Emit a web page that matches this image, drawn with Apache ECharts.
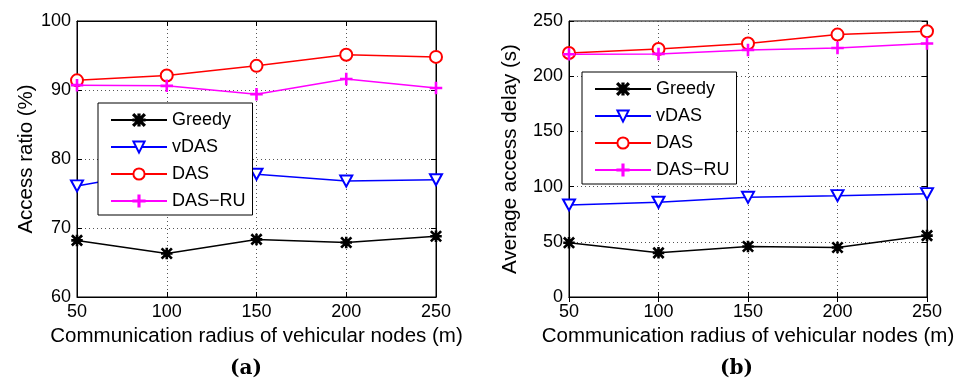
<!DOCTYPE html>
<html>
<head>
<meta charset="utf-8">
<script src="https://cdn.jsdelivr.net/npm/echarts@6/dist/echarts.min.js"></script>
<style>html,body{margin:0;padding:0;background:#fff}#c{width:955px;height:378px}</style>
</head>
<body>
<div id="c"></div>
<script>
const radii = [50, 100, 150, 200, 250];
const seriesNames = ['Greedy', 'vDAS', 'DAS', 'DAS\u2212RU'];
const ratioGreedy = [68.2, 66.3, 68.35, 67.9, 68.8];
const ratioVDAS = [76.1, 78.4, 77.8, 76.8, 77.0];
const ratioDAS = [91.4, 92.1, 93.5, 95.1, 94.8];
const ratioDASRU = [90.7, 90.6, 89.4, 91.6, 90.3];
const delayGreedy = [49.2, 40, 45.7, 44.8, 55.6];
const delayVDAS = [83.4, 85.8, 90.3, 91.8, 93.6];
const delayDAS = [221, 224.7, 229.6, 237.7, 240.7];
const delayDASRU = [219.9, 220.2, 223.8, 225.6, 229.6];
const ratioTicks = [60, 70, 80, 90, 100];
const delayTicks = [0, 50, 100, 150, 200, 250];
const xTicks = [50, 100, 150, 200, 250];

const FONT = 'Liberation Sans, Arial, Helvetica, sans-serif';
const colors = ['#000000', '#0000ff', '#ff0000', '#ff00ff'];
const ASTER = 'path://M4.45,0H5.55V10H4.45Z M0,4.45H10V5.55H0Z M0,0.8L0.8,0L10,9.2L9.2,10Z M9.2,0L10,0.8L0.8,10L0,9.2Z';
const PLUS = 'path://M4.5,0H5.5V10H4.5Z M0,4.5H10V5.5H0Z';
const symbols = [ASTER, 'emptyTriangle', 'emptyCircle', PLUS];
const symSizes = [10, [12, 11], 12, 11];
const symRot = [0, 180, 0, 0];

function pairs(vals) { return radii.map((r, i) => [r, vals[i]]); }

function mkSeries(idx, vals, gi) {
  return {
    type: 'line', name: seriesNames[idx], xAxisIndex: gi * 2, yAxisIndex: gi * 2,
    data: pairs(vals), symbol: symbols[idx], symbolSize: symSizes[idx], symbolRotate: symRot[idx],
    showAllSymbol: true, animation: false, z: 3,
    lineStyle: { color: colors[idx], width: 1.5 },
    itemStyle: { color: colors[idx], borderColor: colors[idx], borderWidth: 1.5 }
  };
}

const grids = [
  { left: 77, top: 21, width: 359, height: 276, show: true, borderColor: '#000', borderWidth: 1, containLabel: false, outerBoundsMode: 'none' },
  { left: 569, top: 21, width: 358, height: 276, show: true, borderColor: '#000', borderWidth: 1, containLabel: false, outerBoundsMode: 'none' }
];

const dotted = { show: true, lineStyle: { color: '#555', type: [1, 3], width: 1 } };
const axisLine = { show: true, lineStyle: { color: '#000', width: 1 } };
const tickIn = { show: true, inside: true, length: 5, lineStyle: { color: '#000' } };
const lbl = { fontFamily: FONT, fontSize: 18, color: '#000' };
const nameStyle = { fontFamily: FONT, fontSize: 20.5, color: '#000' };

function xAxes(gi) {
  return [
    { type: 'value', gridIndex: gi, min: xTicks[0], max: xTicks[xTicks.length - 1], interval: xTicks[1] - xTicks[0],
      axisLine, axisTick: tickIn, splitLine: dotted, axisLabel: Object.assign({ margin: 6 }, lbl),
      name: 'Communication radius of vehicular nodes (m)', nameLocation: 'middle', nameGap: 27,
      nameTextStyle: nameStyle },
    { type: 'value', gridIndex: gi, position: 'top', min: xTicks[0], max: xTicks[xTicks.length - 1], interval: xTicks[1] - xTicks[0],
      axisLine, axisTick: tickIn, splitLine: { show: false }, axisLabel: { show: false } }
  ];
}
function yAxes(gi, ticks, name, gap) {
  return [
    { type: 'value', gridIndex: gi, min: ticks[0], max: ticks[ticks.length - 1], interval: ticks[1] - ticks[0],
      axisLine, axisTick: tickIn, splitLine: dotted, axisLabel: Object.assign({ margin: 6 }, lbl),
      name, nameLocation: 'middle', nameGap: gap,
      nameTextStyle: nameStyle },
    { type: 'value', gridIndex: gi, position: 'right', min: ticks[0], max: ticks[ticks.length - 1], interval: ticks[1] - ticks[0],
      axisLine, axisTick: tickIn, splitLine: { show: false }, axisLabel: { show: false } }
  ];
}

function legend(left, top) {
  return {
    data: seriesNames, orient: 'vertical', left, top,
    backgroundColor: '#fff', borderColor: '#000', borderWidth: 1,
    padding: [8, 7, 5, 12], itemGap: 9, itemWidth: 56, itemHeight: 14,
    textStyle: { fontFamily: FONT, fontSize: 18, color: '#000' },
    selectedMode: false, z: 10
  };
}

const chart = echarts.init(document.getElementById('c'), null, { renderer: 'canvas' });
chart.setOption({
  animation: false,
  backgroundColor: '#fff',
  grid: grids,
  xAxis: xAxes(0).concat(xAxes(1)),
  yAxis: yAxes(0, ratioTicks, 'Access ratio (%)', 39).concat(yAxes(1, delayTicks, 'Average access delay (s)', 48)),
  legend: [legend(98, 103), legend(582, 72)],
  series: [
    mkSeries(0, ratioGreedy, 0), mkSeries(1, ratioVDAS, 0), mkSeries(2, ratioDAS, 0), mkSeries(3, ratioDASRU, 0),
    mkSeries(0, delayGreedy, 1), mkSeries(1, delayVDAS, 1), mkSeries(2, delayDAS, 1), mkSeries(3, delayDASRU, 1)
  ],
  graphic: [
    { type: 'text', left: 230, top: 359, style: { text: '(a)', font: 'bold 20px "DejaVu Serif", "Liberation Serif", serif', fill: '#000' } },
    { type: 'text', left: 720, top: 359, style: { text: '(b)', font: 'bold 20px "DejaVu Serif", "Liberation Serif", serif', fill: '#000' } }
  ]
});
</script>
</body>
</html>
